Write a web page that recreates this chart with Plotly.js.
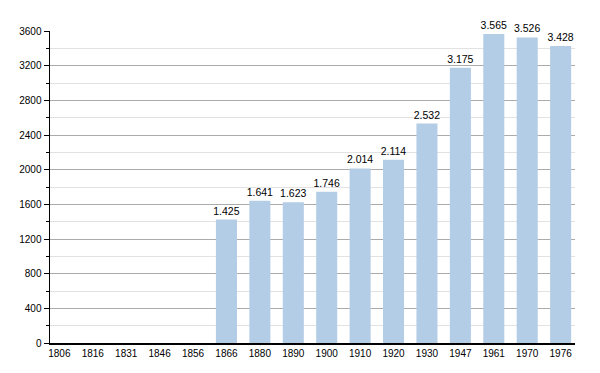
<!DOCTYPE html>
<html><head><meta charset="utf-8">
<script src="https://cdn.plot.ly/plotly-3.0.1.min.js"></script>
<style>html,body{margin:0;padding:0;background:#fff}#c{width:600px;height:373px}</style>
</head><body><div id="c"></div>
<script>
const years = ['1806','1816','1831','1846','1856','1866','1880','1890','1900','1910','1920','1930','1947','1961','1970','1976'];
const population = [null,null,null,null,null,1425,1641,1623,1746,2014,2114,2532,3175,3565,3526,3428];
const labels = population.map(v => v == null ? '' : (v/1000).toFixed(3));

Plotly.newPlot('c', [{
  type: 'bar', x: years, y: population, text: labels,
  textposition: 'outside', cliponaxis: false, constraintext: 'none',
  textfont: {family: 'Liberation Sans, Arial, sans-serif', size: 10.5, color: '#000'},
  marker: {color: '#b3cde6'}, width: 0.63, hoverinfo: 'none'
}], {
  width: 600, height: 373,
  margin: {l: 50, r: 25, t: 31, b: 30},
  paper_bgcolor: '#fff', plot_bgcolor: '#fff',
  showlegend: false,
  font: {family: 'Liberation Sans, Arial, sans-serif', size: 10, color: '#000'},
  xaxis: {type: 'category', range: [-0.28, 15.43], showline: true, linecolor: '#000', linewidth: 1.5, ticks: '', showgrid: false, tickfont: {size: 10}},
  yaxis: {range: [0, 3600], dtick: 400, tick0: 0, showline: true, linecolor: '#000', linewidth: 1.5,
    ticks: 'outside', ticklen: 5, tickcolor: '#000', gridcolor: '#ababab', gridwidth: 1, zeroline: false,
    minor: {dtick: 200, showgrid: true, gridcolor: '#e2e2e2', ticks: 'outside', ticklen: 3, tickcolor: '#000'},
    tickfont: {size: 10}}
}, {staticPlot: true});
</script></body></html>
